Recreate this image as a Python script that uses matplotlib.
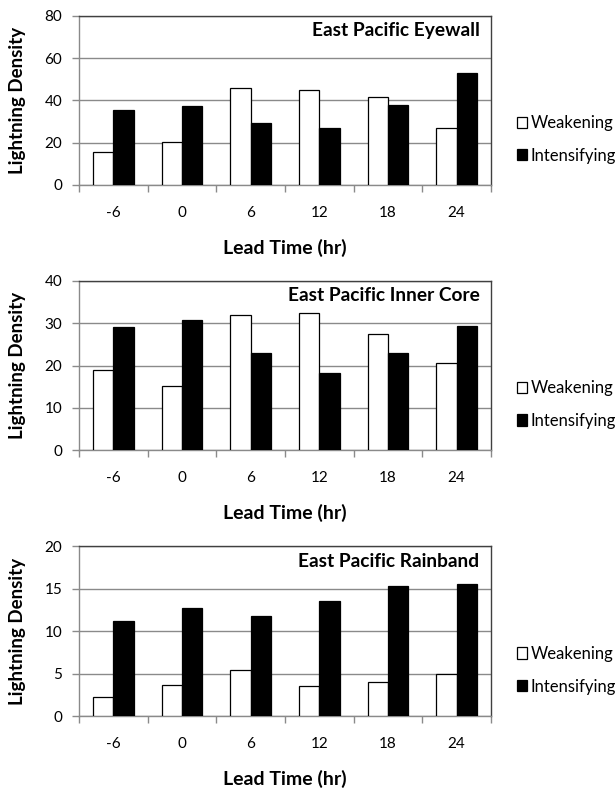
import numpy as np
import matplotlib
matplotlib.use("Agg")
import matplotlib.pyplot as plt

plt.rcParams['font.family'] = ['Lato', 'DejaVu Sans']

lead_times = ["-6", "0", "6", "12", "18", "24"]
series_names = ["Weakening", "Intensifying"]

titles = ["East Pacific Eyewall", "East Pacific Inner Core", "East Pacific Rainband"]
y_max = [80, 40, 20]
y_step = [20, 10, 5]

eyewall_weak = [15.5, 20.5, 46.0, 45.0, 41.6, 26.8]
eyewall_int = [35.5, 37.3, 29.3, 26.9, 38.0, 52.8]
inner_weak = [18.9, 15.2, 31.9, 32.4, 27.5, 20.5]
inner_int = [29.1, 30.7, 23.0, 18.3, 22.9, 29.4]
rain_weak = [2.2, 3.6, 5.4, 3.5, 4.05, 4.95]
rain_int = [11.2, 12.7, 11.8, 13.5, 15.35, 15.55]

weak_data = [eyewall_weak, inner_weak, rain_weak]
int_data = [eyewall_int, inner_int, rain_int]

W, H = 615, 788
fig = plt.figure(figsize=(W / 100, H / 100), dpi=100)

left_px, right_px = 79, 491
panels_px = [(15.7, 185.0), (280.7, 450.3), (546.3, 716.0)]

grid_c = '#8a8a8a'
border_c = '#404040'
bw = 0.295

for k in range(3):
    top, bot = panels_px[k]
    ax = fig.add_axes([left_px / W, 1 - bot / H, (right_px - left_px) / W, (bot - top) / H])
    x = np.arange(len(lead_times))
    ax.bar(x - bw / 2, weak_data[k], width=bw, color='white', edgecolor='black',
           linewidth=0.9, label=series_names[0], zorder=3)
    ax.bar(x + bw / 2, int_data[k], width=bw, color='black', edgecolor='black',
           linewidth=0.9, label=series_names[1], zorder=3)
    ax.set_xlim(-0.5, len(lead_times) - 0.5)
    ax.set_ylim(0, y_max[k])
    ax.set_yticks(np.arange(0, y_max[k] + 0.1, y_step[k]))
    ax.yaxis.grid(True, color=grid_c, linewidth=1.0, zorder=0)
    ax.set_axisbelow(True)

    ax.set_xticks(x)
    ax.set_xticklabels(lead_times)
    ax.set_xticks(np.arange(-0.5, len(lead_times)), minor=True)
    ax.tick_params(axis='x', which='major', length=0, pad=15, labelsize=11, colors='black')
    ax.tick_params(axis='x', which='minor', length=5, width=1.0, color=grid_c, direction='out')
    ax.tick_params(axis='y', which='major', length=5, width=1.0, color=grid_c, pad=7,
                   labelsize=11, direction='out')

    ax.spines['left'].set_color(grid_c)
    ax.spines['bottom'].set_color(grid_c)
    ax.spines['top'].set_color(border_c)
    ax.spines['right'].set_color(border_c)
    for s in ax.spines.values():
        s.set_linewidth(1.0)

    ph = bot - top
    ax.set_ylabel("Lightning Density", fontsize=13.5, fontweight='bold')
    ax.yaxis.set_label_coords(-(left_px - 18) / (right_px - left_px), 0.5)
    ax.yaxis.label.set_va('center')
    ax.set_xlabel("Lead Time (hr)", fontsize=14, fontweight='bold')
    ax.xaxis.set_label_coords(0.5, -63 / ph)
    ax.xaxis.label.set_va('center')

    ax.text(0.972, 0.91, titles[k], transform=ax.transAxes, ha='right', va='center',
            fontsize=13.8, fontweight='bold')

    ax.legend(loc='center left', bbox_to_anchor=(1.062, 0.27), frameon=False,
              handlelength=0.65, handleheight=0.65, handletextpad=0.2,
              labelspacing=1.0, fontsize=12, borderaxespad=0, borderpad=0)

fig.savefig("out.png", dpi=100)
